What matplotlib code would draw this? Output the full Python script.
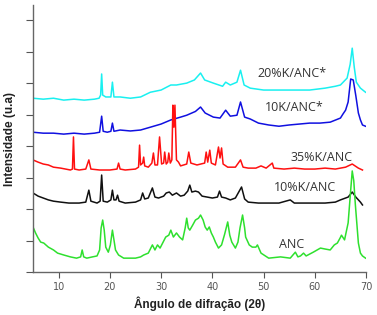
import matplotlib
matplotlib.use('Agg')
import matplotlib.pyplot as plt

# padroes de DRX (2theta, intensidade em u.a., ja com deslocamento vertical)
x_20k = [5, 7, 9, 11, 13, 15, 17, 17.9, 18.2, 18.4, 18.6, 19.2, 20.2, 20.5, 20.8, 22, 24, 26,
         27.9, 30, 31.9, 33, 35, 36.5, 37.7, 38.5, 40.2, 42, 42.6, 43.5, 44.8, 45.5, 46.2, 47.4,
         50, 53, 56, 59, 62, 64, 65, 66.3, 66.9, 67.3, 67.7, 68.1, 68.9, 69.9]
y_20k = [5.52, 5.49, 5.52, 5.46, 5.49, 5.46, 5.49, 5.52, 5.62, 6.29, 5.62, 5.56, 5.56, 6.03, 5.56,
         5.56, 5.52, 5.56, 5.71, 5.78, 5.94, 5.94, 6.00, 6.10, 6.32, 6.10, 6.00, 5.90, 6.03, 5.94,
         6.03, 6.41, 5.94, 5.84, 5.78, 5.78, 5.78, 5.78, 5.84, 5.90, 5.94, 6.16, 6.60, 7.11, 6.50,
         6.03, 5.84, 5.71]

x_10k = [5, 7, 9, 11, 13, 15, 17, 18.0, 18.4, 18.7, 19.5, 20.2, 20.5, 20.8, 22, 24, 26, 27.9,
         30, 31.9, 33.8, 35, 36.7, 37.7, 38.6, 40.2, 41.5, 42.6, 43.5, 44.8, 45.5, 46.3, 47.4,
         49, 51, 53, 55, 57, 59, 61, 63, 65, 65.5, 66.0, 66.5, 67.0, 67.5, 68.0, 68.5, 68.9,
         69.3, 69.9]
y_10k = [4.44, 4.41, 4.41, 4.38, 4.41, 4.38, 4.41, 4.44, 4.95, 4.47, 4.44, 4.47, 4.73, 4.47,
         4.51, 4.48, 4.51, 4.60, 4.70, 4.83, 4.92, 4.98, 5.10, 5.24, 5.05, 4.92, 4.89, 5.14,
         4.95, 4.98, 5.40, 4.92, 4.86, 4.73, 4.67, 4.63, 4.67, 4.70, 4.73, 4.73, 4.76, 4.89,
         5.02, 5.14, 5.40, 6.13, 6.10, 5.60, 5.05, 4.83, 4.67, 4.63]

x_35 = [5, 6, 7, 8, 9, 10.4, 12.3, 12.7, 12.9, 13.1, 14, 15.3, 15.9, 16.3, 18, 20, 21.4, 21.7,
        22.0, 23, 25.0, 25.6, 25.8, 26.0, 26.4, 26.6, 26.8, 27.5, 28.2, 28.5, 28.8, 29.3, 29.7,
        30.1, 30.5, 30.7, 31.0, 31.3, 31.5, 31.8, 32.1, 32.3, 32.5, 32.7, 33.0, 33.4, 33.8,
        35.0, 35.4, 35.8, 37.0, 38.5, 38.8, 39.1, 39.5, 39.8, 40.6, 41.2, 41.5, 41.8, 42.1,
        43, 44.5, 45.5, 46.0, 47, 48.5, 49.5, 50.5, 51.7, 52.0, 54, 56, 58, 60, 62, 64, 66,
        67.3, 68.5, 69.3]
y_35 = [3.56, 3.49, 3.43, 3.40, 3.33, 3.30, 3.24, 3.27, 4.29, 3.27, 3.24, 3.27, 3.56, 3.27,
        3.24, 3.24, 3.27, 3.46, 3.27, 3.24, 3.27, 3.33, 4.03, 3.40, 3.46, 3.65, 3.37, 3.33,
        3.46, 3.78, 3.40, 3.40, 4.29, 3.43, 3.46, 3.81, 3.43, 3.49, 3.78, 3.46, 3.56, 5.30,
        4.60, 5.30, 3.56, 3.49, 3.37, 3.43, 3.81, 3.46, 3.40, 3.46, 3.81, 3.49, 3.87, 3.46,
        3.40, 3.97, 3.62, 3.94, 3.43, 3.33, 3.33, 3.56, 3.33, 3.30, 3.30, 3.37, 3.30, 3.46,
        3.30, 3.27, 3.30, 3.27, 3.27, 3.30, 3.27, 3.33, 3.43, 3.30, 3.24]

x_10 = [5, 6, 7, 8, 9, 10.4, 12, 14, 15.3, 15.9, 16.3, 17.5, 18.1, 18.4, 18.7, 19.5, 20.2, 20.5,
        20.8, 21.2, 21.5, 21.8, 23, 25, 26.0, 26.4, 26.8, 27.5, 28.3, 28.8, 29.5, 30.5, 31.0,
        31.6, 32.2, 33.0, 33.8, 34.5, 35.2, 35.6, 36.0, 36.7, 37.3, 38, 39, 40, 41.0, 41.4,
        41.8, 42.6, 43.5, 44.5, 45.7, 46.3, 47, 49, 51, 53, 55.2, 56, 58, 60, 62, 64, 65,
        66.5, 67.3, 68.0, 68.9, 69.3]
y_10 = [2.51, 2.41, 2.35, 2.29, 2.25, 2.22, 2.19, 2.19, 2.22, 2.60, 2.25, 2.19, 2.25, 3.08,
        2.25, 2.22, 2.29, 2.60, 2.29, 2.29, 2.44, 2.25, 2.19, 2.22, 2.29, 2.51, 2.32, 2.35,
        2.67, 2.38, 2.35, 2.41, 2.51, 2.54, 2.44, 2.51, 2.41, 2.44, 2.57, 2.76, 2.54, 2.57,
        2.54, 2.41, 2.38, 2.35, 2.38, 2.57, 2.38, 2.35, 2.29, 2.35, 2.70, 2.32, 2.22, 2.19,
        2.19, 2.19, 2.29, 2.19, 2.19, 2.19, 2.19, 2.22, 2.29, 2.38, 2.54, 2.38, 2.22, 2.13]

x_anc = [5, 5.5, 6, 6.5, 7.1, 8, 9, 9.8, 11, 12.3, 13.5, 14.3, 14.6, 14.9, 15.5, 16.6, 17.5,
         18.0, 18.3, 18.6, 18.9, 19.2, 19.7, 20.1, 20.5, 20.8, 21.1, 21.7, 22.7, 24, 25, 26,
         26.6, 27.5, 28.3, 28.8, 29.3, 29.8, 30.9, 31.5, 31.9, 32.4, 33.0, 33.6, 34.2, 34.7,
         35.0, 35.3, 35.6, 36.2, 36.7, 37.3, 37.7, 38.2, 38.6, 39.0, 39.4, 39.8, 40.2, 40.6,
         41.2, 41.8, 42.4, 43.0, 43.4, 43.8, 44.5, 45.0, 45.4, 45.9, 46.3, 46.5, 47.2, 47.8,
         48.5, 48.8, 49.5, 51.0, 53.3, 55.2, 56.2, 56.7, 57.2, 57.8, 58.3, 59.7, 61.1, 62.0,
         63.0, 63.8, 64.4, 65.0, 65.2, 65.8, 66.5, 67.0, 67.3, 67.6, 67.9, 68.5, 68.9, 69.3,
         69.9]
y_anc = [1.43, 1.24, 1.08, 0.95, 0.92, 0.79, 0.70, 0.60, 0.54, 0.48, 0.44, 0.48, 0.70, 0.48,
         0.44, 0.48, 0.51, 0.70, 1.40, 1.65, 1.33, 0.79, 0.63, 0.86, 1.33, 1.02, 0.70, 0.54,
         0.44, 0.44, 0.44, 0.48, 0.54, 0.60, 0.86, 0.70, 0.86, 0.76, 1.11, 1.17, 1.33, 1.11,
         1.24, 1.11, 1.02, 1.40, 1.71, 1.40, 1.33, 1.50, 1.65, 1.71, 1.81, 1.65, 1.43, 1.33,
         1.43, 1.24, 1.11, 0.95, 0.76, 0.86, 1.20, 1.59, 1.17, 0.95, 0.76, 0.95, 1.40, 1.81,
         1.40, 1.11, 0.86, 0.79, 0.79, 0.86, 0.60, 0.44, 0.48, 0.44, 0.63, 0.48, 0.51, 0.60,
         0.51, 0.63, 0.76, 0.73, 0.70, 0.86, 0.92, 1.10, 1.17, 1.02, 1.56, 2.60, 3.21, 2.90,
         2.16, 0.92, 0.60, 0.51, 0.44]

nomes = ['20%K/ANC*', '10K/ANC*', '35%K/ANC', '10%K/ANC', 'ANC']
cores = ['#19f0f0', '#1010e0', '#ff1010', '#101010', '#2ee02e']
pos_txt = [(55.6, 6.29), (56.0, 5.24), (61.3, 3.65), (58.1, 2.70), (55.5, 0.86)]

fig = plt.figure(figsize=(3.77, 3.15), dpi=100)
ax = fig.add_axes([0.0875, 0.1365, 0.8835, 0.8475])

series = [(x_20k, y_20k), (x_10k, y_10k), (x_35, y_35), (x_10, y_10), (x_anc, y_anc)]
for (xs, ys), c in zip(series, cores):
    ax.plot(xs, ys, color=c, lw=1.1)

for nome, (tx, ty) in zip(nomes, pos_txt):
    ax.text(tx, ty, nome, ha='center', va='center', fontsize=9,
            family='Open Sans', color='#333333')

ax.set_xlim(5, 70)
ax.set_ylim(0, 8.48)
ax.set_xticks([10, 20, 30, 40, 50, 60, 70])
ax.set_yticks(range(0, 9))
ax.set_yticklabels([])
ax.tick_params(axis='x', labelsize=7, colors='#555555', length=4, width=0.8)
ax.tick_params(axis='y', length=5, width=0.8, colors='#555555')
for s in ['top', 'right']:
    ax.spines[s].set_visible(False)
for s in ['left', 'bottom']:
    ax.spines[s].set_color('#666666')
    ax.spines[s].set_linewidth(1.0)

ax.set_ylabel('Intensidade (u.a)', fontsize=8.5, fontweight='bold',
              family='Liberation Sans', color='#222222', labelpad=4)
ax.set_xlabel('Ângulo de difração (2θ)', fontsize=8.5, fontweight='bold',
              family='Liberation Sans', color='#222222', labelpad=3)

fig.savefig('out.png', dpi=100)
